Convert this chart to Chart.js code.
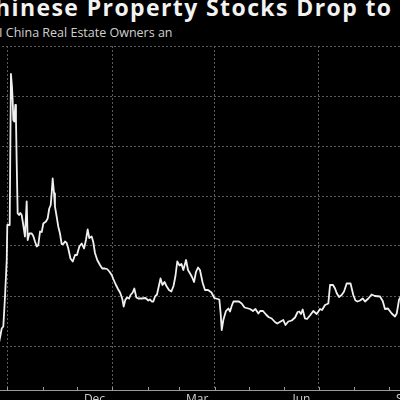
<!DOCTYPE html>
<html>
<head>
<meta charset="utf-8">
<script src="https://cdn.jsdelivr.net/npm/chart.js@4.4.1/dist/chart.umd.min.js"></script>
<style>
  html, body { margin: 0; padding: 0; background: #000; width: 400px; height: 400px; overflow: hidden; }
  #title { position: absolute; left: -21px; top: -7px; font: bold 23px "Open Sans", sans-serif; letter-spacing: 1.4px; color: #f2f2f2; white-space: nowrap; line-height: 28px; }
  #subtitle { position: absolute; left: -9px; top: 25px; font: 12.5px "Open Sans", sans-serif; color: #d0d0d0; white-space: nowrap; line-height: 16px; }
  #wrap { position: absolute; left: -40px; top: 0; width: 480px; height: 410px; }
</style>
</head>
<body>
<div id="title">Chinese Property Stocks Drop to</div>
<div id="subtitle">BI China Real Estate Owners an</div>
<div id="wrap"><canvas id="c" width="480" height="410"></canvas></div>
<script>
// Days counted from 1 Oct 2024
const dayOffsets = [-7.3,-4.9,-3.5,-2.0,-0.5,0,2.1,3.2,4.1,4.7,5.3,6.1,7.0,7.6,8.2,9.1,10.3,11.4,12.6,14.0,15.5,17.0,17.9,19.3,21.4,22.8,24.3,25.8,27.2,28.7,30.2,31.6,33.9,35.4,36.8,38.1,38.9,39.8,41.0,41.8,43.3,44.7,46.2,47.7,49.1,50.6,52.1,53.5,55.4,57.4,59.4,61.1,63.2,65.3,67.3,69.0,70.5,71.9,74.0,75.4,76.9,78.9,81.3,83.3,85.7,87.5,89.5,91.6,93.0,94.9,97.1,99.1,100.9,102.1,103.5,105.0,106.8,108.1,110.0,111.4,113.2,114.9,117.9,121.2,123.7,125.2,126.7,128.1,129.6,131.3,134.4,136.1,137.9,139.6,141.8,143.9,145.8,147.5,149.1,151.1,152.8,154.4,156.8,158.5,160.3,162.0,163.8,165.5,167.3,169.0,171.4,173.4,176.1,179.1,181.6,186.0,187.2,188.1,189.5,191.8,193.9,195.4,196.8,198.4,203.2,205.6,208.1,212.9,215.5,217.7,220.2,221.9,224.3,226.9,229.1,231.9,234.8,236.8,239.8,242.1,244.0,246.5,249.5,252.4,254.7,256.1,257.6,259.1,261.1,262.9,265.5,268.4,271.4,274.3,276.1,278.7,281.6,283.1,285.7,287.5,288.9,291.0,293.3,295.4,297.7,301.1,303.5,305.4,307.2,309.4,311.8,313.8,316.7,319.6,322.5,326.9,329.3,331.3,333.9,337.2,340.1,341.6,343.6,345.4];
const indexValues = [40.6,43.5,43.9,49.9,57.2,64.2,64.2,94.4,91.9,89.2,85.2,84.9,88.2,85.5,77.2,66.5,66.2,66.6,66.2,64.2,61.9,68.9,61.2,62.5,62.5,62.0,60.9,59.9,60.2,62.9,62.8,64.5,64.9,65.5,67.5,68.2,70.5,73.5,70.5,67.9,65.9,63.9,62.5,60.4,60.4,60.9,60.6,59.5,57.5,56.9,58.2,58.2,59.9,60.5,59.5,61.2,63.3,61.6,61.9,60.8,58.6,57.2,56.2,55.5,55.5,55.4,54.9,54.2,53.4,52.4,51.4,50.6,49.4,47.9,49.2,49.7,49.5,50.2,50.7,51.5,49.7,49.5,49.5,49.6,49.1,49.3,48.9,48.9,49.9,50.3,53.5,52.2,52.8,52.0,51.2,50.9,52.0,54.0,56.9,56.1,56.4,55.2,57.2,55.2,54.5,53.8,52.8,54.8,55.7,55.2,52.6,51.2,51.2,50.7,49.6,49.3,46.4,43.2,45.2,47.0,47.5,46.9,48.0,48.9,48.9,48.5,47.7,47.4,47.0,47.4,46.5,47.0,47.0,46.3,45.8,45.5,44.8,44.5,44.9,45.2,44.2,44.9,45.1,45.7,46.8,46.9,46.4,47.3,45.5,45.4,46.1,47.0,46.4,47.4,47.2,48.2,48.5,52.2,52.2,51.5,50.6,49.8,50.2,50.9,52.5,52.5,50.2,49.1,48.9,49.1,49.5,48.9,49.5,50.3,50.0,49.9,49.0,47.4,47.5,46.5,45.9,46.5,49.2,50.0];
// Axis: month starts (tick marks), quarter starts (grid lines), labels centred in their month
const monthStarts = [-30,0,31,61,92,123,151,182,212,243,273,304,335,365];
const quarterStarts = [0,92,182,273,365];
const labelDays = [-15,76.5,166.5,258,350];
const tickLabels = ['Sep','Dec','Mar','Jun','Sep'];
const yGridValues = [40,50,60,70,80,90,100];
const xRange = [-32.72, 370.79];
const yRange = [31.2, 100];

const points = dayOffsets.map((d, i) => ({ x: d, y: indexValues[i] }));

const monthTicks = {
  id: 'monthTicks',
  afterDatasetsDraw(chart) {
    const xs = chart.scales.x, ctx = chart.ctx, b = chart.chartArea.bottom;
    ctx.save();
    ctx.strokeStyle = '#9a9a9a';
    ctx.lineWidth = 1;
    monthStarts.forEach(m => {
      const px = Math.round(xs.getPixelForValue(m)) + 0.5;
      ctx.beginPath(); ctx.moveTo(px, b); ctx.lineTo(px, b - 3); ctx.stroke();
    });
    ctx.restore();
  }
};

new Chart(document.getElementById('c'), {
  type: 'line',
  data: { datasets: [{ data: points, borderColor: '#f0f0f0', borderWidth: 1.8, pointRadius: 0, tension: 0, fill: false, borderJoinStyle: 'round' }] },
  options: {
    responsive: false,
    animation: false,
    layout: { padding: { left: 10, right: 10, top: 46, bottom: 0 } },
    plugins: { legend: { display: false }, tooltip: { enabled: false }, title: { display: false } },
    scales: {
      x: {
        type: 'linear', min: xRange[0], max: xRange[1],
        afterBuildTicks: s => { s.ticks = quarterStarts.concat(labelDays).sort((a,b)=>a-b).map(v => ({ value: v })); },
        afterFit: s => { s.height = 20; },
        grid: {
          drawTicks: false,
          color: c => (c.tick && quarterStarts.includes(c.tick.value)) ? '#5a5a5a' : 'rgba(0,0,0,0)',
          lineWidth: 1
        },
        border: { display: true, color: '#9a9a9a', width: 1, dash: [2, 2] },
        ticks: {
          autoSkip: false, maxRotation: 0, padding: 2, color: '#cfcfcf',
          font: { family: 'Open Sans', size: 12 },
          callback: v => { const i = labelDays.indexOf(v); return i >= 0 ? tickLabels[i] : ''; }
        }
      },
      y: {
        type: 'linear', position: 'right', min: yRange[0], max: yRange[1],
        afterBuildTicks: s => { s.ticks = yGridValues.map(v => ({ value: v })); },
        afterFit: s => { s.width = 0; },
        grid: { drawTicks: false, color: '#5a5a5a', lineWidth: 1 },
        border: { display: false, dash: [2, 2] },
        ticks: { display: false }
      }
    }
  },
  plugins: [monthTicks]
});
</script>
</body>
</html>
